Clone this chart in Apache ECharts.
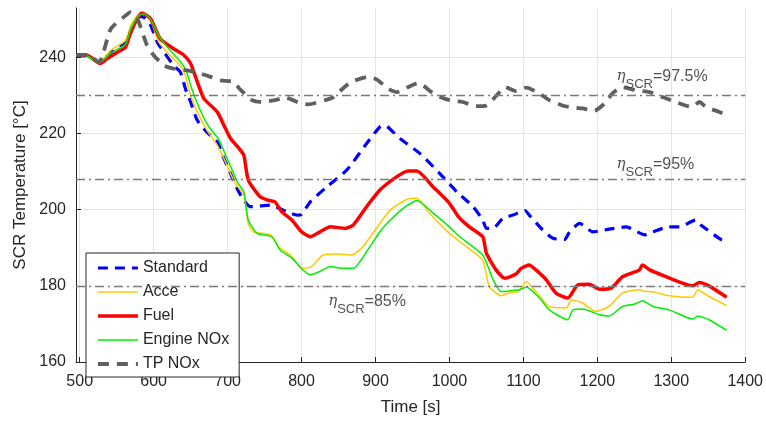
<!DOCTYPE html>
<html>
<head>
<meta charset="utf-8">
<script src="https://cdn.jsdelivr.net/npm/echarts@6/dist/echarts.min.js"></script>
<style>
html,body{margin:0;padding:0;background:#fff;}
#chart{width:766px;height:423px;}
</style>
</head>
<body>
<div id="chart"></div>
<script>
// ---- tick labels ----
var xTicks = [500, 600, 700, 800, 900, 1000, 1100, 1200, 1300, 1400];
var yTicks = [160, 180, 200, 220, 240];

// ---- series: Standard ----
var stdT = [495,510,526,542,562,569,580,587,596,605,614,627,636,643,650,659,672,686,695,704,713,722,731,745,758,780,794,800,812,834,861,888,906,912,933,960,987,1010,1032,1045,1050,1059,1072,1086,1102,1108,1126,1140,1156,1162,1176,1194,1216,1239,1264,1275,1297,1311,1333,1340,1367,1375];
var stdV = [240.4,240.5,238.7,241.3,243.8,246.5,250.8,250.5,248.4,244,241.4,237.9,236.2,231.8,228.3,223.5,220.4,217.8,213.5,209.5,205.5,202.5,200.8,201,201.2,199.5,198.6,198.8,202.1,206,210.4,217.4,221.8,222.2,218.7,214.8,209.5,204.7,200.8,197.3,195.1,195.1,197.7,198.6,199.8,198.6,194.7,192.5,192.2,194,196.4,194.2,194.9,195.5,193.4,194.2,195.5,195.5,197.3,196,192.2,191.8];

// ---- series: Acce ----
var acceT = [495,510,526,542,562,569,580,585,596,607,622,636,643,650,659,672,686,695,704,712,722,728,735,758,769,785,802,810,816,829,848,868,883,906,920,942,956,973,1000,1023,1045,1054,1070,1081,1093,1104,1117,1135,1158,1165,1180,1198,1216,1234,1257,1264,1271,1297,1329,1336,1351,1375];
var acceV = [240.7,240.4,238.6,241.9,244.5,248.4,251.5,251.8,249.7,244,240.6,237.9,235.3,230,225.7,220.9,217,213.5,209.5,206.5,203.9,196.4,194.2,193.4,190.3,188.1,184.6,184.8,185.5,188.1,188.4,188.1,190.3,196.4,199.9,202.7,203,199.1,193.8,190.3,186.8,179.8,177.4,178.2,178.5,181.1,178.5,174.6,174.2,176.3,175.5,173.3,174.6,178.1,179,178.5,178.5,177.4,177,179,177.2,174.8];

// ---- series: Fuel ----
var fuelT = [495,510,528,537,551,562,569,578,584,596,609,627,641,650,659,668,686,695,704,716,722,728,744,755,764,773,787,800,812,825,839,859,870,888,906,929,944,956,978,1000,1012,1027,1045,1050,1063,1075,1090,1097,1108,1117,1131,1144,1160,1174,1189,1203,1219,1234,1257,1261,1271,1293,1315,1329,1338,1351,1375];
var fuelV = [240.7,240.6,238.4,239.7,241.4,242.7,246.7,250.2,251.7,250.2,244.9,242.3,240.6,238.4,233.6,229.2,225.7,222.2,218.7,216,214.3,207.8,203.4,202.5,202.1,199.5,197.3,194.2,192.9,194.2,195.5,195.1,196,200.8,205.2,208.7,210.2,210.2,206,201.7,198.2,195.5,192.9,188.6,184.2,182,183.1,184.6,185.5,184.2,181.6,178.1,176.8,180.3,180.4,179.1,179.4,182.4,184.2,185.5,184.2,182.4,180.7,180,180.9,180,177];

// ---- series: Engine NOx ----
var engT = [495,510,526,542,562,569,580,587,596,609,624,638,645,652,661,674,688,697,706,714,722,728,740,760,771,787,800,812,825,839,856,870,888,906,920,942,956,978,1000,1014,1045,1059,1070,1086,1095,1104,1122,1135,1160,1167,1180,1203,1216,1234,1252,1261,1275,1297,1329,1336,1351,1375];
var engV = [240.7,240.4,238.5,241.2,243.5,247.5,251,251.5,250,245,241.5,238.5,236,231.5,227,222,218.5,214.5,210.5,207,204.7,197.3,193.8,192.9,189.4,187.3,184.5,182.9,183.8,185.1,184.6,184.6,189,194.2,197.3,201,202.4,199.1,195.5,192.9,188.1,181.6,178.5,178.8,179,179.7,176.8,173.7,171.1,173.7,173.9,172.4,172.1,174.6,175.3,176.1,174.6,173.7,171.3,172,171.1,168.3];

// ---- series: TP NOx ----
var tpT = [495,510,526,542,562,569,578,591,600,614,627,645,663,677,690,708,717,733,746,764,778,798,809,832,843,859,870,890,902,917,929,946,958,976,989,1005,1018,1036,1050,1066,1075,1090,1104,1122,1135,1153,1162,1180,1196,1212,1220,1234,1252,1271,1288,1306,1328,1338,1347,1365,1372];
var tpV = [240.7,240.7,238.8,247.5,251,251.9,250.2,243.2,240.6,237.9,237.1,236.6,235.8,234.9,234,233.6,231.6,228.8,228.3,228.8,229.5,228,227.7,228.8,229.6,232.4,233.8,234.9,234.2,231.8,230.9,232.4,233.3,230.9,229.5,228.6,228.3,227.2,227.4,230.5,232.2,231.2,232.1,230.5,228.8,227.4,227,226.6,226,228.3,230.5,232.2,231.4,230.9,229.6,228.3,227,228.3,227,225.7,225.1];

// ---- efficiency reference lines ----
var refLevels = [230, 208, 180];
var annT = [1226, 1226, 836];
var annV = [234.6, 211.6, 175.6];
var annText = ['97.5%', '95%', '85%'];

function zip(t, v) { return t.map(function (x, i) { return [x, v[i]]; }); }

var FONT = 'Liberation Sans, Arial, Helvetica, sans-serif';
var TXT = '#262626';

var chart = echarts.init(document.getElementById('chart'), null, {renderer: 'canvas'});

function lineSeries(name, t, v, color, width, type, extra) {
  var s = {
    name: name, type: 'line', data: zip(t, v), showSymbol: false, symbol: 'none',
    smooth: 0.2, silent: true, animation: false,
    lineStyle: {color: color, width: width, type: type, cap: 'butt', join: 'round'},
    itemStyle: {color: color}
  };
  for (var k in extra) s[k] = extra[k];
  return s;
}

var series = [
  lineSeries('Standard', stdT, stdV, '#0000ff', 3.2, [10, 7], {
    markLine: {
      silent: true, symbol: ['none', 'none'], animation: false,
      label: {show: false},
      lineStyle: {color: '#7a7a7a', width: 1.4, type: [9, 4, 2, 4]},
      data: refLevels.map(function (y) { return {yAxis: y}; })
    }
  }),
  lineSeries('Acce', acceT, acceV, '#ffc800', 1.5, 'solid', {}),
  lineSeries('Fuel', fuelT, fuelV, '#ff0000', 3.5, 'solid', {}),
  lineSeries('Engine NOx', engT, engV, '#00ee00', 1.5, 'solid', {}),
  lineSeries('TP NOx', tpT, tpV, '#606060', 3.8, [11, 8], {}),
  {
    name: 'ann', type: 'scatter', symbolSize: 0, silent: true, animation: false,
    data: annT.map(function (t, i) { return {value: [t, annV[i]], txt: annText[i]}; }),
    label: {
      show: true, position: 'right', distance: 0,
      formatter: function (p) { return '{eta|\u03b7}{sub|SCR}{main|=' + p.data.txt + '}'; },
      rich: {
        eta: {fontFamily: 'DejaVu Serif', fontStyle: 'italic', fontSize: 15, color: TXT, lineHeight: 18, verticalAlign: 'top'},
        sub: {fontFamily: FONT, fontSize: 13, color: TXT, lineHeight: 14, verticalAlign: 'top', padding: [9, 0, 0, 0]},
        main: {fontFamily: FONT, fontSize: 16, color: TXT, lineHeight: 18, verticalAlign: 'top'}
      }
    },
    z: 10
  }
];

chart.setOption({
  animation: false,
  backgroundColor: '#fff',
  grid: {left: 76, right: 20, top: 8, bottom: 61, containLabel: false},
  xAxis: {
    type: 'value', min: 495, max: 1400,
    name: 'Time [s]', nameLocation: 'middle', nameGap: 37,
    nameTextStyle: {fontFamily: FONT, fontSize: 17, color: TXT},
    axisLine: {show: true, onZero: false, lineStyle: {color: TXT, width: 1}},
    axisTick: {show: true, inside: true, length: 5, customValues: xTicks, lineStyle: {color: TXT}},
    axisLabel: {customValues: xTicks, fontFamily: FONT, fontSize: 16, color: TXT, margin: 12,
      formatter: function (v) { return String(v); }},
    splitLine: {show: true, lineStyle: {color: '#e4e4e4', width: 1}}
  },
  yAxis: {
    type: 'value', min: 160, max: 253,
    name: 'SCR Temperature [\u00b0C]', nameLocation: 'middle', nameGap: 44,
    nameTextStyle: {fontFamily: FONT, fontSize: 17, color: TXT},
    axisLine: {show: true, onZero: false, lineStyle: {color: TXT, width: 1}},
    axisTick: {show: true, inside: true, length: 5, customValues: yTicks, lineStyle: {color: TXT}},
    axisLabel: {customValues: yTicks, fontFamily: FONT, fontSize: 16, color: TXT, margin: 10,
      formatter: function (v) { return String(v); }},
    splitLine: {show: true, lineStyle: {color: '#e4e4e4', width: 1}}
  },
  legend: {
    show: true, orient: 'vertical', left: 86, top: 253,
    data: ['Standard', 'Acce', 'Fuel', 'Engine NOx', 'TP NOx'],
    itemWidth: 40, itemHeight: 14, itemGap: 8,
    padding: [7, 10, 5, 10],
    itemStyle: {opacity: 0},
    lineStyle: {width: 'inherit'},
    backgroundColor: '#fff', borderColor: '#262626', borderWidth: 1, borderRadius: 0,
    textStyle: {fontFamily: FONT, fontSize: 16, color: TXT},
    selectedMode: false
  },
  series: series
});
</script>
</body>
</html>
